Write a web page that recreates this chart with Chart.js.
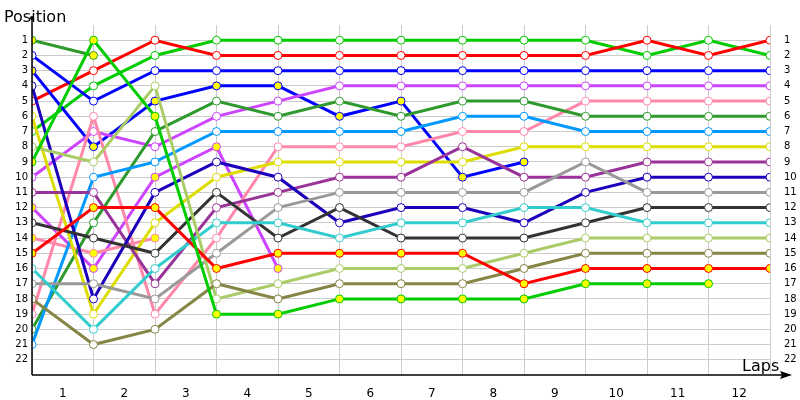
<!DOCTYPE html>
<html><head><meta charset="utf-8">
<script src="https://cdn.jsdelivr.net/npm/chart.js@4"></script>
<style>body{margin:0;background:#fff}#w{width:800px;height:400px}</style>
</head><body><div id="w"><canvas id="c"></canvas></div>
<script>
const laps = [0,1,2,3,4,5,6,7,8,9,10,11,12];
const lapLabels = ["1","2","3","4","5","6","7","8","9","10","11","12"];
const positionTicks = [1,2,3,4,5,6,7,8,9,10,11,12,13,14,15,16,17,18,19,20,21,22];
const green      = [7,4,2,1,1,1,1,1,1,1,2,1,2];
const red        = [5,3,1,2,2,2,2,2,2,2,1,2,1];
const blue       = [2,5,3,3,3,3,3,3,3,3,3,3,3];
const violet     = [10,7,8,6,5,4,4,4,4,4,4,4,4];
const pink       = [19,6,19,14,8,8,8,7,7,5,5,5,5];
const darkGreen  = [20,13,7,5,6,5,6,5,5,6,6,6,6];
const lightBlue  = [21,10,9,7,7,7,7,6,6,7,7,7,7];
const yellow     = [6,19,13,10,9,9,9,9,8,8,8,8,8];
const purple     = [11,11,17,12,11,10,10,8,10,10,9,9,9];
const navy       = [4,18,11,9,10,13,12,12,13,11,10,10,10];
const gray       = [17,17,18,15,12,11,11,11,11,9,11,11,11];
const darkGray   = [13,14,15,11,14,12,14,14,14,13,12,12,12];
const cyan       = [16,20,16,13,13,14,13,13,12,12,13,13,13];
const lightOlive = [8,9,4,18,17,16,16,16,15,14,14,14,14];
const olive      = [18,21,20,17,18,17,17,17,16,15,15,15,15];
const redPit     = [15,12,12,16,15,15,15,15,17,16,16,16,16];
const greenPit   = [9,1,6,19,19,18,18,18,18,17,17,17,null];
const bluePit    = [3,8,5,4,4,6,5,10,9,null,null,null,null];
const magentaPit = [12,16,10,8,16,null,null,null,null,null,null,null,null];
const pinkPit    = [14,15,14,null,null,null,null,null,null,null,null,null,null];
const darkGreenPit=[1,2,null,null,null,null,null,null,null,null,null,null,null];

const series = [
 [greenPit,'#00cc00',1],[redPit,'#ff0000',1],[olive,'#858545',0],[lightOlive,'#aacc66',0],
 [cyan,'#33cccc',0],[darkGray,'#333333',0],[gray,'#999999',0],[navy,'#1a00bb',0],
 [purple,'#993399',0],[yellow,'#dddd00',0],[lightBlue,'#0099ff',0],[darkGreen,'#2e9a2e',0],
 [pink,'#ff88aa',0],[pinkPit,'#ff88aa',1],[magentaPit,'#cc44ff',1],[violet,'#cc44ff',0],
 [bluePit,'#0000ff',1],[blue,'#0000ff',0],[red,'#ff0000',0],[green,'#00cc00',0],[darkGreenPit,'#2e9a2e',1]
];
const datasets = series.map(([vals,col,pit])=>({
  data: vals.map((v,i)=>({x:laps[i],y:v})),
  borderColor: col, borderWidth: 3,
  pointRadius: 4, pointBorderWidth: 1, pointBorderColor: col,
  pointBackgroundColor: pit ? '#ffff00' : '#ffffff', tension: 0, spanGaps:false
}));
const deco = {id:'deco', afterDraw(ch){
  const c=ch.ctx, a=ch.chartArea; c.save();
  c.strokeStyle='#000'; c.fillStyle='#000'; c.lineWidth=1.5;
  c.beginPath(); c.moveTo(a.left,a.bottom); c.lineTo(a.left,18); c.stroke();
  c.beginPath(); c.arc(a.left,18,2,0,7); c.fill();
  c.beginPath(); c.moveTo(a.left,a.bottom); c.lineTo(788,a.bottom); c.stroke();
  c.beginPath(); c.moveTo(792,a.bottom); c.lineTo(780,a.bottom-4); c.lineTo(782,a.bottom); c.lineTo(780,a.bottom+4); c.closePath(); c.fill();
  c.font='16px "DejaVu Sans"'; c.textBaseline='alphabetic';
  c.textAlign='left'; c.fillText('Position',4,22);
  c.fillText('Laps',742,371);
  c.restore();
}};
const tickFont={family:'"DejaVu Sans"',size:10};
new Chart(document.getElementById('c'),{
 type:'line', data:{datasets},
 options:{responsive:true,maintainAspectRatio:false,animation:false,
  layout:{padding:{top:25,bottom:0,left:0,right:0}},
  plugins:{legend:{display:false},tooltip:{enabled:false}},
  scales:{
   x:{type:'linear',min:0,max:12,afterBuildTicks(s){s.ticks=laps.map(v=>({value:v}));},
      ticks:{display:false},grid:{color:'#cccccc',drawTicks:false},border:{display:false},
      afterFit(s){s.height=0;}},
   x2:{type:'linear',position:'bottom',min:0,max:12,
      afterBuildTicks(s){s.ticks=lapLabels.map((l,i)=>({value:i+0.5}));},
      ticks:{color:'#000',font:{family:'"DejaVu Sans"',size:12},padding:4,maxRotation:0,autoSkip:false,
        callback:(v,i)=>lapLabels[i]},
      grid:{display:false},border:{display:false},afterFit(s){s.height=25;}},
   y:{type:'linear',reverse:true,min:0,max:23,
      afterBuildTicks(s){s.ticks=positionTicks.map(v=>({value:v}));},
      ticks:{color:'#000',font:tickFont,padding:4},
      grid:{color:'#cccccc',drawTicks:false},border:{display:false},afterFit(s){s.width=32;}},
   y2:{type:'linear',position:'right',reverse:true,min:0,max:23,
      afterBuildTicks(s){s.ticks=positionTicks.map(v=>({value:v}));},
      ticks:{color:'#000',font:tickFont,padding:6},
      grid:{display:false},border:{display:false},afterFit(s){s.width=30;}}
  }},
 plugins:[deco]
});
</script></body></html>
